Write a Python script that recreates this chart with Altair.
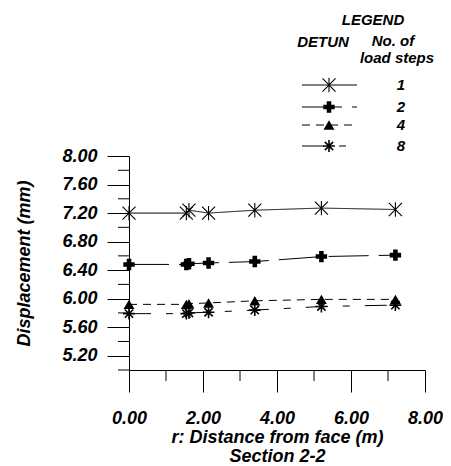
import altair as alt
import pandas as pd

# ---- data ----
dist = [0.0, 1.55, 1.62, 2.15, 3.4, 5.2, 7.2]
steps = ["1", "2", "4", "8"]
disp_1 = [7.20, 7.20, 7.24, 7.20, 7.24, 7.27, 7.25]
disp_2 = [6.48, 6.48, 6.49, 6.50, 6.52, 6.59, 6.61]
disp_4 = [5.92, 5.92, 5.93, 5.94, 5.97, 5.99, 5.99]
disp_8 = [5.79, 5.79, 5.80, 5.81, 5.84, 5.89, 5.91]
y_major = [5.2, 5.6, 6.0, 6.4, 6.8, 7.2, 7.6, 8.0]
y_minor = [5.0, 5.4, 5.8, 6.2, 6.6, 7.0, 7.4, 7.8]
x_major = [0, 2, 4, 6, 8]
x_minor = [1, 3, 5, 7]

series_vals = {"1": disp_1, "2": disp_2, "4": disp_4, "8": disp_8}
rows = []
for s in steps:
    for d, v in zip(dist, series_vals[s]):
        rows.append({"dist": d, "disp": v, "series": s})
df = pd.DataFrame(rows)

FONT = "Liberation Sans, Arial, sans-serif"
W, H = 296, 214
LEFT = 121
DX = 132 - (8 + LEFT)  # keep legend at its page position

ASTER6 = "M-1,-1L1,1M-1,1L1,-1M0,-1.1L0,1.1"
STAR8 = "M-1,0L1,0M0,-1L0,1M-0.7,-0.7L0.7,0.7M-0.7,0.7L0.7,-0.7"

style = {
    "1": dict(shape=ASTER6, filled=False, size=170, sw=1.1, dash=[1, 0], ly=-71),
    "2": dict(shape="cross", filled=True, size=130, sw=0, dash=[40, 10], ly=-49),
    "4": dict(shape="triangle-up", filled=True, size=120, sw=0, dash=[8, 6], ly=-31),
    "8": dict(shape=STAR8, filled=False, size=140, sw=1.6, dash=[22, 15, 7, 15], ly=-10),
}

xscale = alt.Scale(domain=[0, 8], nice=False, zero=False)
yscale = alt.Scale(domain=[5, 8], nice=False, zero=False)

common_axis = dict(
    labelFont=FONT, labelFontSize=18, labelFontStyle="italic", labelFontWeight="bold",
    labelColor="black", titleFont=FONT, titleFontSize=18, titleFontStyle="italic",
    titleFontWeight="bold", titleColor="black", domainColor="black", tickColor="black",
    grid=False, domainWidth=1, tickWidth=1, tickSize=22, labelFlush=False,
    labelOverlap=False, format=".2f",
)

xaxis = alt.Axis(
    values=x_major,
    labelPadding=17,
    title=["r: Distance from face (m)", "Section 2-2"],
    titleLineHeight=19,
    titleBaseline="top",
    titleY=58,
    **common_axis,
)
yaxis = alt.Axis(
    values=y_major,
    labelPadding=10,
    title="Displacement (mm)",
    titleX=-108 + DX,
    titleY=H / 2,
    titleAngle=270,
    titleAlign="center",
    titleBaseline="middle",
    **common_axis,
)

X = alt.X("dist:Q", scale=xscale, axis=xaxis)
Y = alt.Y("disp:Q", scale=yscale, axis=yaxis)

layers = []
for s in steps:
    st = style[s]
    base = alt.Chart(df).transform_filter(alt.datum.series == s)
    layers.append(base.mark_line(color="black", strokeWidth=1, strokeDash=st["dash"]).encode(x=X, y=Y))
    layers.append(
        base.mark_point(shape=st["shape"], filled=st["filled"], size=st["size"], color="black",
                        strokeWidth=st["sw"], opacity=1).encode(x=X, y=Y)
    )

# minor ticks (shorter)
ymin_df = pd.DataFrame({"disp": y_minor})
xmin_df = pd.DataFrame({"dist": x_minor})
layers.append(alt.Chart(ymin_df).mark_rule(color="black", strokeWidth=1).encode(
    y=alt.Y("disp:Q", scale=yscale, axis=yaxis), x=alt.value(-11), x2=alt.value(0)))
layers.append(alt.Chart(xmin_df).mark_rule(color="black", strokeWidth=1).encode(
    x=alt.X("dist:Q", scale=xscale, axis=xaxis), y=alt.value(H), y2=alt.value(H + 11)))

one = alt.Data(values=[{"k": 1}])

def txt(t, x, y, size=15):
    return alt.Chart(one).mark_text(text=t, font=FONT, fontSize=size, fontStyle="italic",
                                     fontWeight="bold", color="black", align="center",
                                     baseline="middle").encode(x=alt.value(x + DX), y=alt.value(y))

layers.append(txt("LEGEND", 241, -136))
layers.append(txt("DETUN", 191, -114))
layers.append(txt("No. of", 261, -115))
layers.append(txt("load steps", 265, -98))

for s in steps:
    st = style[s]
    ly = st["ly"]
    layers.append(alt.Chart(one).mark_rule(color="black", strokeWidth=1, strokeDash=st["dash"]).encode(
        x=alt.value(170 + DX), x2=alt.value(225 + DX), y=alt.value(ly)))
    layers.append(alt.Chart(one).mark_point(shape=st["shape"], filled=st["filled"], size=st["size"],
                                            color="black", opacity=1, strokeWidth=st["sw"]).encode(
        x=alt.value(197 + DX), y=alt.value(ly)))
    layers.append(txt(s, 269, ly))

chart = alt.layer(*layers).properties(
    width=W, height=H,
    autosize=alt.AutoSizeParams(type="none"),
    padding={"left": LEFT, "top": 148, "right": 18, "bottom": 97},
).configure_view(stroke=None)

chart.save("out.html", embed_options={"renderer": "svg", "actions": False})
